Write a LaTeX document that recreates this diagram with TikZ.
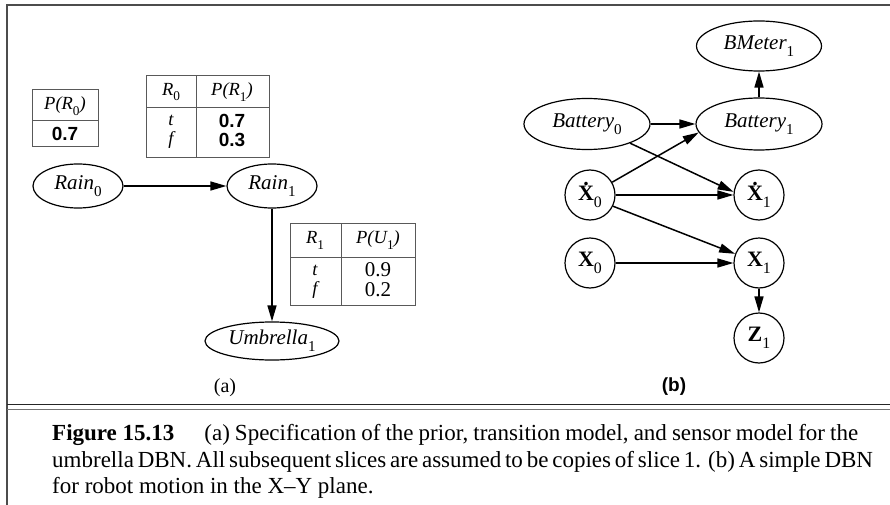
\documentclass[tikz,border=0pt]{standalone}
\usepackage{fontspec}
\setmainfont{Liberation Serif}
\newfontfamily\sansf{Liberation Sans}
\usepackage{graphicx}
\usetikzlibrary{shapes.geometric,arrows.meta}
\newcommand\sbs[1]{\raisebox{-0.32em}{\scalebox{0.72}{#1}}}
\newcommand\dotX{\setbox0\hbox{\textbf{X}}\leavevmode\hbox{\rlap{\hbox to\wd0{\hss\raisebox{\dimexpr\ht0+0.05em\relax}{\textbf{.}}\hss}}\box0}}
\begin{document}
\begin{tikzpicture}[x=1pt,y=-1pt,
  ell/.style={draw,ellipse,line width=1.2pt,inner sep=0pt,font=\fontsize{21}{24}\selectfont\itshape},
  circ/.style={draw,circle,line width=1.2pt,minimum size=50pt,inner sep=0pt,font=\fontsize{22}{24}\selectfont},
  arr/.style={line width=1.5pt,-{Triangle[length=16pt,width=9pt]}},
  tab/.style={draw=black!65,line width=1pt},
  th/.style={inner sep=0pt,font=\fontsize{18.5}{20}\selectfont\itshape},
  tvs/.style={inner sep=0pt,font=\fontsize{19}{20}\selectfont\sansf\bfseries},
  tvr/.style={inner sep=0pt,font=\fontsize{21}{22}\selectfont},
  lab/.style={inner sep=0pt,font=\fontsize{20}{22}\selectfont},
  captxt/.style={anchor=base west,inner sep=0pt,font=\fontsize{23}{27}\selectfont}]
\fill[white] (0,0) rectangle (890,505);
\useasboundingbox (0,0) rectangle (890,505);
% frame
\draw[black!70,line width=2pt] (7,505) -- (7,5) -- (890,5);
\draw[black!85,line width=1.2pt] (7,404.5) -- (890,404.5);
\draw[black!55,line width=1pt] (7,409) -- (890,409);

% ---------- panel (a)
\draw[tab] (32,90) rectangle (98,147);
\draw[tab] (32,121) -- (98,121);
\node[th] (p0h) at (65,106) {P(R\sbs{\upshape 0})};
\node[tvs] (p0v) at (65,134) {0.7};

\draw[tab] (146,76) rectangle (269,158);
\draw[tab] (196,76) -- (196,158);
\draw[tab] (146,108) -- (269,108);
\node[th] (t2h1) at (171,92) {R\sbs{\upshape 0}};
\node[th] (t2h2) at (232,92) {P(R\sbs{\upshape 1})};
\node[th] (t2t) at (171,120) {t};
\node[th] (t2f) at (171,140) {f};
\node[tvs] (t2v1) at (232,121) {0.7};
\node[tvs] (t2v2) at (232,140) {0.3};

\draw[tab] (290,223) rectangle (415,305);
\draw[tab] (341,223) -- (341,305);
\draw[tab] (290,257) -- (415,257);
\node[th] (t3h1) at (315,240) {R\sbs{\upshape 1}};
\node[th] (t3h2) at (378,240) {P(U\sbs{\upshape 1})};
\node[th] (t3t) at (315,270) {t};
\node[th] (t3f) at (315,290) {f};
\node[tvr] (t3v1) at (378,270) {0.9};
\node[tvr] (t3v2) at (378,290) {0.2};

\node[ell,minimum width=90pt,minimum height=44pt] (rain0) at (78,186) {Rain\sbs{\upshape 0}};
\node[ell,minimum width=90pt,minimum height=44pt] (rain1) at (272,186) {Rain\sbs{\upshape 1}};
\node[ell,minimum width=134pt,minimum height=38pt] (umb) at (272,341) {Umbrella\sbs{\upshape 1}};
\draw[arr] (rain0) -- (rain1);
\draw[arr] (rain1) -- (umb);
\node[lab] (la) at (225,388) {(a)};

% ---------- panel (b)
\node[ell,minimum width=125pt,minimum height=50pt] (bm) at (759,46) {BMeter\sbs{\upshape 1}};
\node[ell,minimum width=126pt,minimum height=52pt] (b1) at (759,124) {Battery\sbs{\upshape 1}};
\node[ell,minimum width=126pt,minimum height=51pt] (b0) at (587,124) {Battery\sbs{\upshape 0}};
\node[circ] (xd0) at (590,195) {\dotX\sbs{0}};
\node[circ] (x0) at (590,263) {\textbf{X}\sbs{0}};
\node[circ] (xd1) at (759,195) {\dotX\sbs{1}};
\node[circ] (x1) at (759,263) {\textbf{X}\sbs{1}};
\node[circ] (z1) at (759,338) {\textbf{Z}\sbs{1}};
\draw[arr] (b1) -- (bm);
\draw[arr] (b0) -- (b1);
\draw[arr] (b0.-24) -- (xd1.173);
\draw[arr] (xd0.30) -- (b1.188);
\draw[arr] (xd0) -- (xd1);
\draw[arr] (xd0.-26) -- (x1.159);
\draw[arr] (x0) -- (x1);
\draw[arr] (x1) -- (z1);
\node[lab,font=\fontsize{19}{20}\selectfont\sansf\bfseries] (lb) at (674,387) {(b)};

% ---------- caption
\node[captxt] (c1) at (52,440) {\makebox[806pt][s]{\mbox{\textbf{Figure 15.13}}\hspace{30pt}(a) Specification of the prior, transition model, and sensor model for the}};
\node[captxt] (c2) at (52,467) {\makebox[806pt][s]{umbrella DBN. All subsequent slices are assumed to be copies of slice 1. (b) A simple DBN}};
\node[captxt] (c3) at (52,493) {for robot motion in the X--Y plane.};
\end{tikzpicture}
\end{document}
